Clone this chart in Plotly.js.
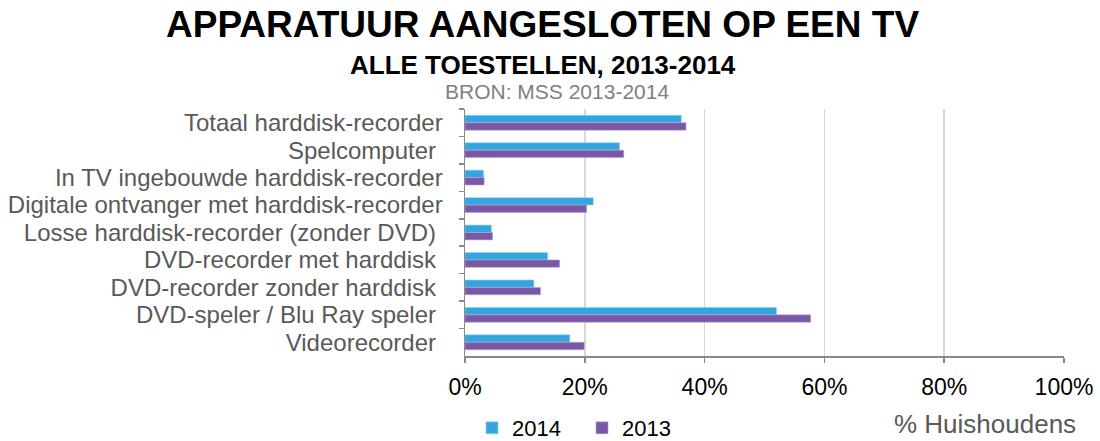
<!DOCTYPE html>
<html><head><meta charset="utf-8">
<script src="https://cdn.plot.ly/plotly-3.0.1.min.js"></script>
<style>html,body{margin:0;padding:0;background:#fff}#chart{width:1100px;height:441px}</style>
</head><body><div id="chart"></div>
<script>
var categories = [
  "Totaal harddisk-recorder",
  "Spelcomputer ",
  "In TV ingebouwde harddisk-recorder",
  "Digitale ontvanger met harddisk-recorder",
  "Losse harddisk-recorder (zonder DVD) ",
  "DVD-recorder met harddisk ",
  "DVD-recorder zonder harddisk ",
  "DVD-speler / Blu Ray speler ",
  "Videorecorder "
];
var values2014 = [0.361, 0.258, 0.031, 0.214, 0.044, 0.138, 0.115, 0.520, 0.175];
var values2013 = [0.369, 0.265, 0.032, 0.203, 0.046, 0.158, 0.126, 0.577, 0.199];
var tickVals = [0, 0.2, 0.4, 0.6, 0.8, 1.0];
var tickText = ["0%", "20%", "40%", "60%", "80%", "100%"];

var FONT = "Liberation Sans, Arial, sans-serif";

var traces = [
  {type:"bar", orientation:"h", name:"2014", y:categories, x:values2014,
   marker:{color:"#33A6E0", line:{color:"#8fd0f0", width:0.6}}},
  {type:"bar", orientation:"h", name:"2013", y:categories, x:values2013,
   marker:{color:"#7B58A6", line:{color:"#b7a2d2", width:0.6}}}
];

var L = 465, R = 36, T = 109, B = 85, W = 1100, H = 441;
var plotW = W-L-R, plotH = H-T-B;
function px(x){return (x-L)/plotW;}
function py(y){return (H-B-y)/plotH;}

var layout = {
  width:W, height:H,
  margin:{l:L, r:R, t:T, b:B, autoexpand:false},
  paper_bgcolor:"#fff", plot_bgcolor:"#fff",
  barmode:"group", bargap:0.46, bargroupgap:0,
  font:{family:FONT, color:"#595959", size:22},
  showlegend:true,
  legend:{orientation:"h", x:px(472), xanchor:"left", y:py(428), yanchor:"middle",
          font:{family:FONT, size:22, color:"#000"}, itemwidth:30, tracegroupgap:0,
          entrywidth:65, entrywidthmode:"pixels",
          bgcolor:"rgba(0,0,0,0)"},
  xaxis:{range:[0,1], tickvals:tickVals, ticktext:tickText, showgrid:true,
         gridcolor:"#d9d9d9", gridwidth:1.5, zeroline:false,
         showline:true, linecolor:"#898989", linewidth:1.5,
         ticks:"outside", ticklen:5, tickcolor:"#898989", tickwidth:1.5,
         tickfont:{family:FONT, size:23, color:"#000"}, ticklabelstandoff:5,
         fixedrange:true},
  yaxis:{type:"category", autorange:"reversed", showline:true, linecolor:"#898989",
         linewidth:1.5, ticks:"outside", ticklen:5, tickcolor:"#898989", tickwidth:1.5,
         tickson:"boundaries", showgrid:false, ticklabelstandoff:16, nticks:30,
         tickfont:{family:FONT, size:24, color:"#595959"}, fixedrange:true},
  annotations:[
    {text:"<b>APPARATUUR AANGESLOTEN OP EEN TV</b>", xref:"paper", yref:"paper",
     x:px(542), y:py(25), xanchor:"center", yanchor:"middle", showarrow:false,
     font:{family:FONT, size:37, color:"#000"}},
    {text:"<b>ALLE TOESTELLEN, 2013-2014</b>", xref:"paper", yref:"paper",
     x:px(543), y:py(65), xanchor:"center", yanchor:"middle", showarrow:false,
     font:{family:FONT, size:26, color:"#000"}},
    {text:"BRON: MSS 2013-2014", xref:"paper", yref:"paper",
     x:px(557), y:py(92), xanchor:"center", yanchor:"middle", showarrow:false,
     font:{family:FONT, size:21, color:"#808080"}},
    {text:"% Huishoudens", xref:"paper", yref:"paper",
     x:px(1078), y:py(424), xanchor:"right", yanchor:"middle", showarrow:false,
     font:{family:FONT, size:26, color:"#595959"}}
  ]
};

Plotly.newPlot("chart", traces, layout, {displayModeBar:false, staticPlot:true});
</script></body></html>
